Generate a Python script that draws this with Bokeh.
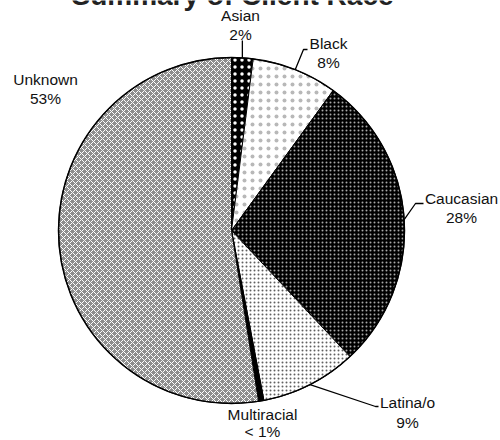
import math
from bokeh.plotting import figure
from bokeh.models import Range1d, ColumnDataSource
from bokeh.core.properties import value
from bokeh.embed import file_html
from bokeh.resources import INLINE

# ---- data ----
categories = ["Asian", "Black", "Caucasian", "Latina/o", "Multiracial", "Unknown"]
shares = [2.0, 8.0, 28.0, 9.0, 0.5, 52.5]
pct_labels = ["2%", "8%", "28%", "9%", "< 1%", "53%"]
title_text = "Summary of Client Race"

# ---- styles ----
fills = ["#000000", "#ffffff", "#000000", "#ffffff", "#000000", "#8e8e8e"]
hatches = ["dot", "dot", "dot", "dot", " ", "diagonal_cross"]
hatch_colors = ["#ffffff", "#b8b8b8", "#a8a8a8", "#606060", "#000000", "#ffffff"]
hatch_scales = [7, 8, 4, 4, 6, 6]
hatch_weights = [0.8, 0.6, 0.7, 0.8, 1, 1]

W, H = 500, 440
FONT = "Liberation Sans"

def Y(img_y):
    return H - img_y

cx, cy_img, R = 231, 230, 173

p = figure(width=W, height=H, output_backend="svg", toolbar_location=None,
           x_range=Range1d(0, W), y_range=Range1d(0, H),
           min_border=0, outline_line_color=None)
p.axis.visible = False
p.grid.visible = False
p.background_fill_color = "white"
p.border_fill_color = "white"

total = sum(shares)
cum = 0.0
starts, ends, mids = [], [], []
for s in shares:
    c0 = cum / total
    cum += s
    c1 = cum / total
    starts.append(math.pi / 2 - c1 * 2 * math.pi)
    ends.append(math.pi / 2 - c0 * 2 * math.pi)
    mids.append(math.pi / 2 - (c0 + c1) / 2 * 2 * math.pi)

src = ColumnDataSource(dict(start=starts, end=ends, fill=fills, hatch=hatches,
                            hcol=hatch_colors, hscale=hatch_scales, hw=hatch_weights))
p.wedge(x=cx, y=Y(cy_img), radius=R, radius_units="screen",
        start_angle="start", end_angle="end", source=src,
        fill_color="fill", hatch_pattern="hatch", hatch_color="hcol",
        hatch_scale="hscale", hatch_weight="hw",
        line_color="black", line_width=1)
# outer outline
p.circle(x=cx, y=Y(cy_img), radius=R, radius_units="screen",
         fill_color=None, line_color="black", line_width=1.5)

def edge_pt(i):
    a = mids[i]
    return cx + R * math.cos(a), Y(cy_img) + R * math.sin(a)

# label layout: (name center x, name center y img, pct center x, pct center y img)
label_pos = {
    "Asian": (240, 15, 240, 34),
    "Black": (328, 43, 328, 62),
    "Caucasian": (461, 198, 461, 217),
    "Latina/o": (407, 402, 407, 422),
    "Multiracial": (262, 414, 262, 431),
    "Unknown": (45, 79, 45, 98),
}
# leader lines: elbow and end points (img coords)
leaders = {
    "Asian": [(None, 40)],
    "Black": [(303, 49), (307, 49)],
    "Caucasian": [(415, 203), (423, 203)],
    "Latina/o": [(375, 406), (378, 406)],
}
for i, cat in enumerate(categories):
    if cat not in leaders:
        continue
    x0, y0 = edge_pt(i)
    xs, ys = [x0], [y0]
    for (lx, ly) in leaders[cat]:
        xs.append(x0 if lx is None else lx)
        ys.append(Y(ly))
    p.line(xs, ys, line_color="black", line_width=1.3)

for i, cat in enumerate(categories):
    nx, ny, px_, py_ = label_pos[cat]
    p.text(x=[nx], y=[Y(ny)], text=[cat], text_align="center", text_baseline="middle",
           text_font=value(FONT), text_font_size="15.5px", text_color="#111111")
    p.text(x=[px_], y=[Y(py_)], text=[pct_labels[i]], text_align="center", text_baseline="middle",
           text_font=value(FONT), text_font_size="15.5px", text_color="#111111")

p.text(x=[232], y=[Y(10)], text=[title_text], text_align="center", text_baseline="bottom",
       text_font=value(FONT), text_font_size="28px", text_font_style="bold",
       text_color="#222222")

open("out.html", "w").write(file_html(p, INLINE))
